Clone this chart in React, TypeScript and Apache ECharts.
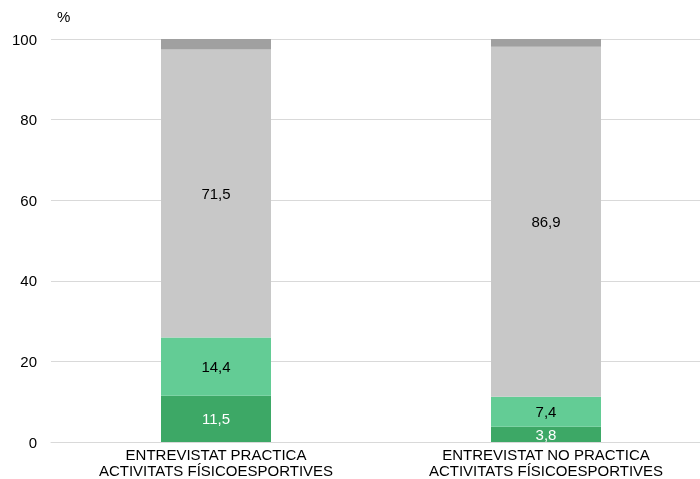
import React, { useEffect, useRef } from "react";
import * as echarts from "echarts";

const categories = [
  "ENTREVISTAT PRACTICA\nACTIVITATS FÍSICOESPORTIVES",
  "ENTREVISTAT NO PRACTICA\nACTIVITATS FÍSICOESPORTIVES",
];
const seriesA = [11.5, 3.8];
const seriesB = [14.4, 7.4];
const seriesC = [71.5, 86.9];
const seriesD = [2.6, 1.9];
const yTicks = [0, 20, 40, 60, 80, 100];

const fmt = (v: number) => String(v).replace(".", ",");

export default function App() {
  const ref = useRef<HTMLDivElement>(null);
  useEffect(() => {
    if (!ref.current) return;
    const chart = echarts.init(ref.current, undefined, { renderer: "svg" });
    const font = "Liberation Sans, Arial, sans-serif";
    const mk = (name: string, data: number[], color: string, labelColor: string | null) => ({
      name,
      type: "bar",
      stack: "total",
      data,
      barWidth: 110,
      itemStyle: { color },
      label: labelColor
        ? {
            show: true,
            position: "inside",
            color: labelColor,
            fontSize: 15,
            fontFamily: font,
            formatter: (p: any) => fmt(p.value),
          }
        : { show: false },
    });
    chart.setOption({
      animation: false,
      grid: {
        left: 51,
        top: 39,
        width: 660,
        height: 403,
        containLabel: false,
        outerBoundsMode: "none",
      },
      graphic: [
        {
          type: "text",
          left: 57,
          top: 9,
          style: { text: "%", fontSize: 15, fontFamily: font, fill: "#000" },
        },
      ],
      xAxis: {
        type: "category",
        data: categories,
        axisLine: { lineStyle: { color: "#D9D9D9" } },
        axisTick: { show: false },
        axisLabel: {
          color: "#000",
          fontSize: 15,
          fontFamily: font,
          margin: 4,
          lineHeight: 16,
        },
      },
      yAxis: {
        type: "value",
        min: yTicks[0],
        max: yTicks[yTicks.length - 1],
        interval: 20,
        axisLine: { show: false },
        axisTick: { show: false },
        splitLine: { lineStyle: { color: "#D9D9D9" } },
        axisLabel: { color: "#000", fontSize: 15, fontFamily: font, margin: 14 },
      },
      series: [
        mk("A", seriesA, "#3DA866", "#FFFFFF"),
        mk("B", seriesB, "#63CC95", "#000000"),
        mk("C", seriesC, "#C8C8C8", "#000000"),
        mk("D", seriesD, "#A0A0A0", null),
      ],
    });
    return () => chart.dispose();
  }, []);
  return (
    <div
      ref={ref}
      style={{ position: "fixed", left: 0, top: 0, width: 700, height: 479, overflow: "hidden" }}
    />
  );
}
